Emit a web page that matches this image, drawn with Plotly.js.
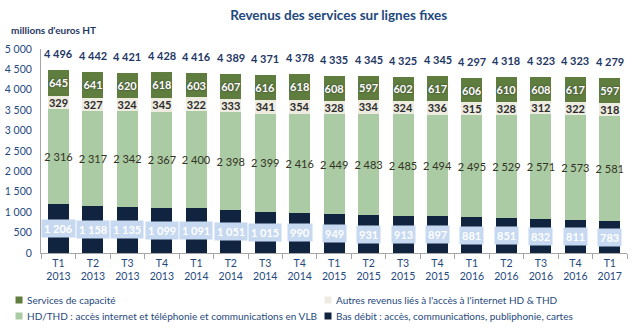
<!DOCTYPE html>
<html>
<head>
<meta charset="utf-8">
<script src="https://cdn.plot.ly/plotly-3.0.1.min.js"></script>
<style>html,body{margin:0;padding:0;background:#fff}#chart{width:639px;height:334px}</style>
</head>
<body>
<div id="chart"></div>
<script>
// ---- data ----
var quarters = ['T1','T2','T3','T4','T1','T2','T3','T4','T1','T2','T3','T4','T1','T2','T3','T4','T1'];
var years = ['2013','2013','2013','2013','2014','2014','2014','2014','2015','2015','2015','2015','2016','2016','2016','2016','2017'];
var basDebit = [1206,1158,1135,1099,1091,1051,1015,990,949,931,913,897,881,851,832,811,783];
var hdThd = [2316,2317,2342,2367,2400,2398,2399,2416,2449,2483,2485,2494,2495,2529,2571,2573,2581];
var autresRevenus = [329,327,324,345,322,333,341,354,328,334,324,336,315,328,312,322,318];
var servicesCapacite = [645,641,620,618,603,607,616,618,608,597,602,617,606,610,608,617,597];
var totals = [4496,4442,4421,4428,4416,4389,4371,4378,4335,4345,4325,4345,4297,4318,4323,4323,4279];
var seriesNames = ['Services de capacité',"Autres revenus liés à l'accès à l'internet HD & THD",'HD/THD : accès internet et téléphonie et communications en VLB','Bas débit : accès, communications, publiphonie, cartes'];

// ---- styling ----
var FONT = 'Lato, Carlito, Calibri, "Open Sans", sans-serif';
var C_SERV = '#5E7D3E', C_AUTR = '#EEECE1', C_HD = '#AACBA3', C_BAS = '#10243F', C_BOX = '#C6D9F1';
var C_BLUE = '#1F497D', C_DARKBLUE = '#1F3864';

function fmt(n){ return String(n).replace(/\B(?=(\d{3})+(?!\d))/g, '\u00a0'); }
var cats = quarters.map(function(q,i){ return q + '<br>' + years[i]; });

function barTrace(name, vals, color, textFont, showText){
  return {
    type:'bar', name:name, x:cats, y:vals,
    marker:{color:color, line:{width:0}},
    text: showText ? vals.map(fmt) : null,
    textposition: showText ? 'inside' : 'none',
    insidetextanchor:'middle', textangle:0, constraintext:'none',
    textfont:textFont, hoverinfo:'skip', showlegend:false
  };
}

var traces = [
  barTrace(seriesNames[3], basDebit, C_BAS, null, false),
  barTrace(seriesNames[2], hdThd, C_HD, {family:FONT, size:11, color:'#333325'}, true),
  barTrace(seriesNames[1], autresRevenus, C_AUTR, {family:FONT, size:11, color:'#2b2b2b', weight:'bold'}, true),
  barTrace(seriesNames[0], servicesCapacite, C_SERV, {family:FONT, size:11, color:'#ffffff', weight:'bold', shadow:'0px 0px 2px #333'}, true)
];

var annotations = [];
cats.forEach(function(c,i){
  annotations.push({x:c, y:totals[i], xref:'x', yref:'y', text:fmt(totals[i]), showarrow:false,
    yanchor:'bottom', yshift:8, font:{family:FONT, size:11, color:C_DARKBLUE, weight:'bold'}});
  annotations.push({x:c, y:basDebit[i]/2, xref:'x', yref:'y', text:fmt(basDebit[i]), showarrow:false,
    yanchor:'middle', bgcolor:C_BOX, borderpad:2,
    font:{family:FONT, size:11, color:'#ffffff', weight:'bold'}});
});
annotations.push({xref:'paper', yref:'paper', x:-0.055, y:1.095, xanchor:'left', yanchor:'middle',
  text:"millions d'euros HT", showarrow:false, font:{family:FONT, size:10, color:C_DARKBLUE, weight:'bold'}});

// manual legend (two columns)
var legendItems = [
  {name:seriesNames[0], color:C_SERV, col:0, row:0},
  {name:seriesNames[1], color:C_AUTR, col:1, row:0},
  {name:seriesNames[2], color:C_HD, col:0, row:1},
  {name:seriesNames[3], color:C_BAS, col:1, row:1}
];
var shapes = [];
var colSq = [-0.0375, 0.4898], colTx = [-0.027, 0.5000], rowY = [-0.2304, -0.3088];
legendItems.forEach(function(it){
  shapes.push({type:'rect', xref:'paper', yref:'paper', xsizemode:'pixel', ysizemode:'pixel',
    xanchor:colSq[it.col], yanchor:rowY[it.row], x0:-3.5, x1:3.5, y0:-3.5, y1:3.5,
    fillcolor:it.color, line:{width:0}});
  annotations.push({xref:'paper', yref:'paper', x:colTx[it.col], y:rowY[it.row], xanchor:'left', yanchor:'middle',
    text:it.name, showarrow:false, font:{family:FONT, size:10, color:C_BLUE}});
});

var layout = {
  width:639, height:334,
  margin:{l:41, r:12, t:49, b:81},
  paper_bgcolor:'#ffffff', plot_bgcolor:'#ffffff',
  separators:', ',
  barmode:'stack', bargap:0.39,
  showlegend:false,
  title:{text:'Revenus des services sur lignes fixes', x:0.53, xanchor:'center', y:0.955, yanchor:'middle',
    font:{family:FONT, size:13.5, color:C_BLUE, weight:'bold'}},
  font:{family:FONT},
  xaxis:{type:'category', showline:true, linecolor:'#A6A6A6', linewidth:1, ticks:'outside', tickson:'boundaries',
    ticklen:5, tickcolor:'#A6A6A6', showgrid:false, tickfont:{family:FONT, size:10.5, color:C_BLUE}, fixedrange:true},
  yaxis:{range:[0,5000], tickvals:[0,500,1000,1500,2000,2500,3000,3500,4000,4500,5000], separatethousands:true,
    showline:true, linecolor:'#A6A6A6', linewidth:1, ticks:'', showgrid:false, zeroline:false,
    tickfont:{family:FONT, size:10.5, color:C_BLUE}, ticklabelstandoff:6, fixedrange:true},
  annotations:annotations, shapes:shapes
};

Plotly.newPlot('chart', traces, layout, {displayModeBar:false, staticPlot:true});
</script>
</body>
</html>
